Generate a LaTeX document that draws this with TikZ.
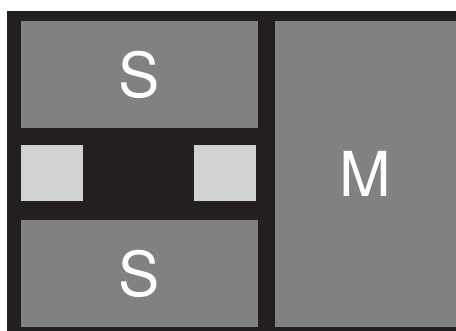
\documentclass[tikz,border=0pt]{standalone}
\usepackage{fontspec}
\setmainfont{TeX Gyre Heros}
\usepackage{tikz}
\usetikzlibrary{positioning}
\definecolor{frameDark}{HTML}{231F20}
\definecolor{blockGray}{HTML}{808182}
\definecolor{padLight}{HTML}{D1D2D4}

\begin{document}
\begin{tikzpicture}[
    x=1pt,y=1pt,
    every node/.style={inner sep=0pt,outer sep=0pt},
    block/.style={fill=blockGray,text=white,font=\fontsize{62}{62}\selectfont},
    pad/.style={fill=padLight,minimum width=62pt,minimum height=56pt}
  ]
  \useasboundingbox (0,0) rectangle (456,331);
  %% Dark frame
  \fill[frameDark] (7,0) rectangle (456,320);
  %% Blocks
  \node[block,minimum width=237pt,minimum height=107pt] (stop) at (139.5,256.5) {S};
  \node[block,minimum width=237pt,minimum height=107pt] (sbot) at (139.5,57.5) {S};
  \node[block,minimum width=181pt,minimum height=306pt] (mid) at (365.5,157) {M};
  %% Pads
  \node[pad] (padl) at (52,158) {};
  \node[pad] (padr) at (225,158) {};
\end{tikzpicture}
\end{document}
